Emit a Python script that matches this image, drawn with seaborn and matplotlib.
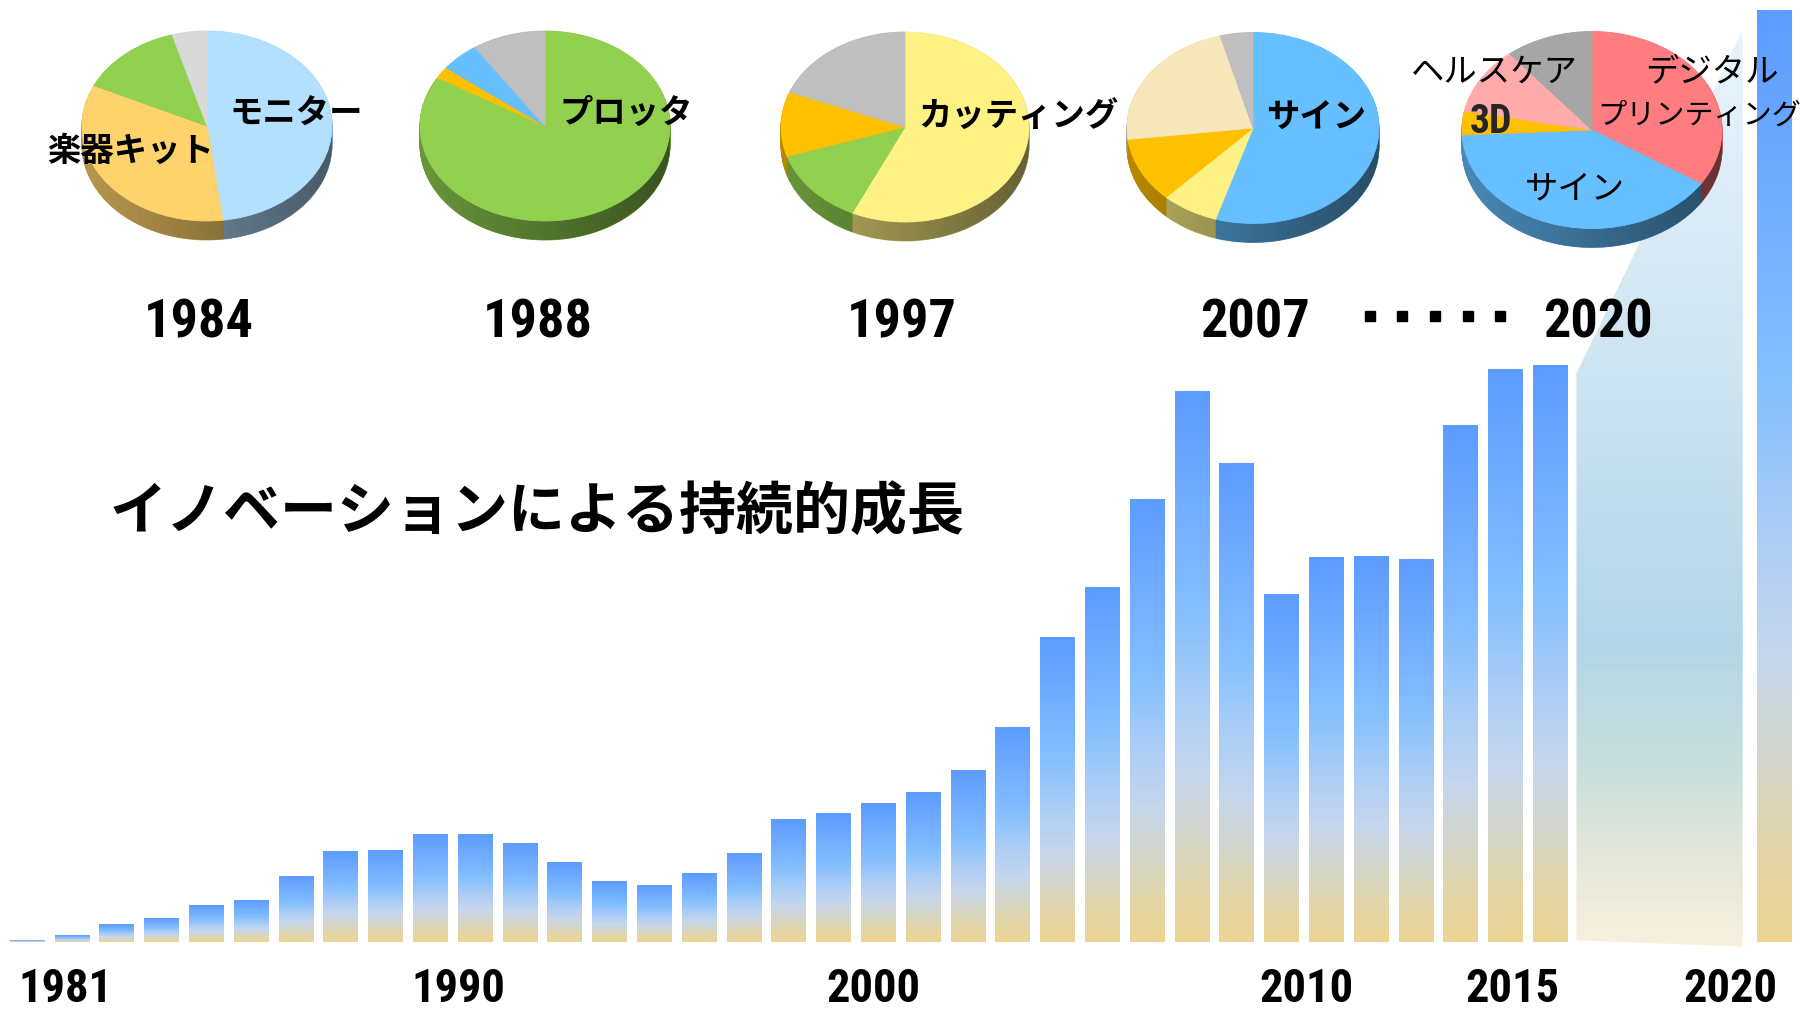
import os
import numpy as np
import pandas as pd
import matplotlib
matplotlib.use("Agg")
import matplotlib.pyplot as plt
import seaborn as sns
from matplotlib import font_manager as fm
from matplotlib.font_manager import FontProperties
from matplotlib.textpath import TextPath
from matplotlib.colors import LinearSegmentedColormap, to_rgb
from matplotlib.patches import Polygon
from matplotlib.lines import Line2D

# ------------------------------------------------------------------ data
years = list(range(1981, 2016)) + [2020]
sales = [1.4, 5.8, 15.3, 20.6, 31.8, 36.2, 57.0, 78.8, 79.6, 93.5,
         93.5, 85.7, 69.2, 52.7, 49.2, 59.7, 77.0, 106.6, 111.8, 120.5,
         130.0, 149.0, 187.0, 265.0, 308.0, 385.0, 479.0, 416.0, 302.0, 334.0,
         335.0, 333.0, 449.0, 498.0, 501.0, 810.0]

tick_years = [1981, 1990, 2000, 2010, 2015, 2020]
tick_labels = ["1981", "1990", "2000", "2010", "2015", "2020"]

title = "イノベーションによる持続的成長"
pie_years = ["1984", "1988", "1997", "2007", "2020"]

share_1984 = [48.0, 34.0, 13.5, 4.5]
share_1988 = [83.5, 2.0, 5.0, 9.5]
share_1997 = [57.0, 13.0, 11.0, 19.0]
share_2007 = [54.8, 7.3, 11.0, 22.7, 4.2]
share_2020 = [34.2, 40.0, 3.9, 11.0, 10.9]

label_1984 = ["モニター", "楽器キット"]
label_1988 = ["プロッタ"]
label_1997 = ["カッティング"]
label_2007 = ["サイン"]
label_2020 = ["デジタル", "プリンティング", "サイン", "3D", "ヘルスケア"]

# ------------------------------------------------------------------ style
sns.set_theme(style="white")
JP = ["Noto Sans CJK JP", "DejaVu Sans"]
plt.rcParams["font.family"] = JP

# find a condensed / narrow bold font for the numerals
pref = ["liberationsansnarrow-bold.", "robotocondensed-bold.",
        "dejavusanscondensed-bold.", "opensans_condensed-bold.",
        "opensans-condensedbold.", "notosans-condensedbold."]
files = {}
for f in fm.fontManager.ttflist:
    files[os.path.basename(f.fname).lower()] = f.fname
num_fp = None
for p in pref:
    hit = [v for k, v in files.items() if k.startswith(p)]
    if hit:
        num_fp = FontProperties(fname=hit[0])
        break
if num_fp is None:
    hit = [v for k, v in files.items()
           if ("narrow" in k or "condensed" in k) and "bold" in k
           and "italic" not in k and "oblique" not in k]
    if hit:
        num_fp = FontProperties(fname=sorted(hit)[0])
if num_fp is None:
    num_fp = FontProperties(family="Liberation Sans", weight="bold")


def num_size(text, target_w_px, target_cap_px):
    tp = TextPath((0, 0), text, size=100, prop=num_fp).get_extents()
    s_w = 100 * target_w_px / tp.width * 0.72
    s_h = 100 * target_cap_px / tp.height * 0.72
    return 0.55 * s_w + 0.45 * s_h if s_w < s_h else s_h


col_1984 = ["#b3e0ff", "#ffd36b", "#92d050", "#d9d9d9"]
col_1988 = ["#92d050", "#ffc000", "#66bfff", "#bfbfbf"]
col_1997 = ["#fff284", "#92d050", "#ffc000", "#bfbfbf"]
col_2007 = ["#66bfff", "#fff284", "#ffc000", "#f8e6bb", "#bfbfbf"]
col_2020 = ["#ff7c80", "#66bfff", "#ffc000", "#ffabab", "#a6a6a6"]

W, H = 1805, 1010
fig = plt.figure(figsize=(W / 100, H / 100), dpi=100)
fig.patch.set_facecolor("white")


def fx(px):
    return px / W


def fy(py):
    return 1 - py / H


# ------------------------------------------------------------------ bars
base_px = 942.0
unit_px = 1.1512
x_left, x_right = 1980.391, 2020.681
bar_w = 0.78

ax = fig.add_axes([0, 0, 1, 1])
df = pd.DataFrame({"year": years, "sales": sales})
sns.barplot(data=df, x="year", y="sales", native_scale=True, width=bar_w,
            color="#5c9cff", saturation=1, errorbar=None, ax=ax)

bar_cmap = LinearSegmentedColormap.from_list("bar", [
    (0.0, "#ecd393"), (0.1, "#e2d5a9"), (0.2, "#d2d6cc"), (0.3, "#c6d6ec"),
    (0.45, "#a8ccf6"), (0.6, "#84bfff"), (0.8, "#70adff"), (1.0, "#5c9cff")])
grad = np.linspace(0, 1, 256).reshape(-1, 1)
for p in list(ax.patches):
    x0, y0, w, h = p.get_x(), p.get_y(), p.get_width(), p.get_height()
    im = ax.imshow(grad, cmap=bar_cmap, origin="lower", aspect="auto",
                   extent=(x0, x0 + w, y0, y0 + h), interpolation="bicubic",
                   zorder=2)
    im.set_clip_path(p)
    p.set_facecolor("none")
    p.set_edgecolor("none")

# projection band between 2015 and 2020 bars
v2015 = sales[years.index(2015)]
v2020 = sales[years.index(2020)]
lx = 2015 + bar_w / 2 + 0.19
rx_ = 2020 - bar_w / 2 - 0.32
poly_pts = [(lx, 1.5), (lx, v2015 * 0.986), (rx_, v2020 * 0.978), (rx_, -4.0)]
band = Polygon(poly_pts, closed=True, facecolor="none", edgecolor="none")
ax.add_patch(band)
band_cmap = LinearSegmentedColormap.from_list("band", [
    (0.0, "#f8f0df"), (0.10, "#e2e7d9"), (0.19, "#c9dfdc"), (0.33, "#b2d6e8"),
    (0.62, "#cde4f2"), (1.0, "#e8f4fc")])
imb = ax.imshow(grad, cmap=band_cmap, origin="lower", aspect="auto",
                extent=(lx, rx_, -4.0, v2020 * 0.978), interpolation="bicubic",
                zorder=1)
imb.set_clip_path(band)

ax.set_xlim(x_left, x_right)
ax.set_ylim(-(H - base_px) / unit_px, base_px / unit_px)
for s in ax.spines.values():
    s.set_visible(False)
ax.spines["bottom"].set_position(("data", 0))
tick_shift = [0.86, 0.62, -0.12, -0.44, -0.86, -0.99]
ax.set_xticks([t + d for t, d in zip(tick_years, tick_shift)])
tick_fs = num_size("1981", 86, 34)
ax.set_xticklabels(tick_labels, fontproperties=num_fp, color="black")
for lab in ax.get_xticklabels():
    lab.set_fontsize(tick_fs)
    lab.set_va("baseline")
ax.tick_params(axis="x", length=0, pad=43)
ax.set_yticks([])
ax.set_xlabel("")
ax.set_ylabel("")
ax.set_facecolor("white")

# ------------------------------------------------------------------ pies


def pie3d(cx, cy, rx, ry, depth, shares, colors, n_layers=26):
    dz = depth / ry
    pad = 1.06
    left, right = cx - pad * rx, cx + pad * rx
    top, bottom = cy - pad * ry, cy + (pad + dz) * ry
    pax = fig.add_axes([fx(left), fy(bottom), (right - left) / W,
                        (bottom - top) / H])
    side_cols = [tuple(np.array(to_rgb(c)) * 0.72) for c in colors]
    for k in range(n_layers, 0, -1):
        wedges, _ = pax.pie(shares, colors=side_cols, startangle=90,
                            counterclock=False, center=(0, -dz * k / n_layers),
                            wedgeprops=dict(linewidth=0))
        for wdg in wedges:
            wdg.set_zorder(1)
            wdg.set_edgecolor(wdg.get_facecolor())
            wdg.set_linewidth(0.6)
    t = np.linspace(0, np.pi, 100)
    hull = np.vstack([np.column_stack([np.cos(t), np.sin(t)]),
                      np.column_stack([np.cos(t + np.pi), np.sin(t + np.pi) - dz])])
    hull_patch = Polygon(hull, closed=True, facecolor="none", edgecolor="none",
                         transform=pax.transData)
    shade = np.zeros((1, 256, 4))
    shade[..., 3] = np.linspace(0.0, 0.45, 256)
    ims = pax.imshow(shade, extent=(-1.02, 1.02, -1 - dz - 0.02, 1.0),
                     aspect="auto", zorder=2, interpolation="bilinear")
    ims.set_clip_path(hull_patch)
    wedges, _ = pax.pie(shares, colors=colors, startangle=90,
                        counterclock=False, center=(0, 0),
                        wedgeprops=dict(linewidth=0))
    for wdg in wedges:
        wdg.set_zorder(3)
        wdg.set_edgecolor(wdg.get_facecolor())
        wdg.set_linewidth(0.6)
    pax.set_aspect("auto")
    pax.set_xlim(-pad, pad)
    pax.set_ylim(-pad - dz, pad)
    pax.axis("off")
    return pax


pie3d(207, 126, 125, 95, 19, share_1984, col_1984)
pie3d(545, 126, 125, 95, 19, share_1988, col_1988)
pie3d(905, 127, 124, 95, 19, share_1997, col_1997)
pie3d(1253, 128, 126, 95.5, 19, share_2007, col_2007)
pie3d(1592, 130, 130, 98.5, 19, share_2020, col_2020)

# ------------------------------------------------------------------ texts
jp_bold = dict(fontfamily=JP, fontweight="bold", fontsize=24, color="black",
               ha="center", va="center")
jp_reg = dict(fontfamily=JP, fontweight="normal", fontsize=24, color="black",
              ha="center", va="center")
fig.text(fx(296), fy(114), label_1984[0], **jp_bold)
fig.text(fx(131), fy(151), label_1984[1], **jp_bold)
fig.text(fx(626), fy(113), label_1988[0], **jp_bold)
fig.text(fx(1018), fy(117), label_1997[0], **jp_bold)
fig.text(fx(1316), fy(117), label_2007[0], **jp_bold)
fig.text(fx(1712), fy(72), label_2020[0], **jp_reg)
fig.text(fx(1597), fy(116), label_2020[1], fontfamily=JP, fontsize=21,
         color="black", ha="left", va="center")
fig.text(fx(1575), fy(189), label_2020[2], **jp_reg)
fig.text(fx(1491), fy(122), label_2020[3], fontproperties=num_fp,
         fontsize=num_size("3D", 51, 29), ha="center", va="center")
fig.text(fx(1494), fy(72), label_2020[4], **jp_reg)

year_fs = num_size("1984", 103, 40)
for yr, cx in zip(pie_years, [199, 538, 902, 1255, 1598]):
    fig.text(fx(cx), fy(337), yr, fontproperties=num_fp, fontsize=year_fs,
             ha="center", va="baseline", color="black")

fig.add_artist(Line2D([fx(v) for v in [1369.5, 1401.5, 1434.5, 1467.5, 1499.5]],
                      [fy(316)] * 5, transform=fig.transFigure, ls="none",
                      marker="s", markersize=7.8, color="black"))

fig.text(fx(109), fy(512), title, fontfamily=JP, fontweight="bold",
         fontsize=41, ha="left", va="center", color="black")

fig.savefig("out.png", dpi=100, facecolor="white")
